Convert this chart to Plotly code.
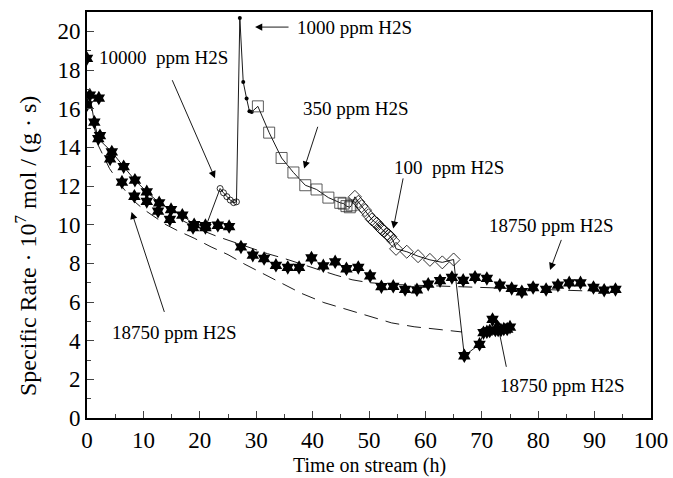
import plotly.graph_objects as go

# ---- data (time on stream in h, specific rate * 1e7 mol/(g s)) ----
# constant 18750 ppm H2S run
const_x = [0, 0.5, 1.3, 2.0, 4.4, 6.5, 8.5, 10.6, 12.8, 14.9, 16.9, 19.0, 21.0, 23.2, 25.2,
           27.3, 29.4, 31.4, 33.5, 35.6, 37.6, 39.8, 41.9, 44.0, 46.0, 48.1, 50.2, 52.2, 54.3,
           56.4, 58.5, 60.5, 62.6, 64.7, 66.7, 68.8, 70.9, 73.2, 75.3, 77.1, 79.1, 81.4, 83.5,
           85.5, 87.5, 89.8, 91.7, 93.7]
const_y = [18.6, 16.7, 15.3, 14.45, 13.76, 13.0, 12.3, 11.7, 11.13, 10.78, 10.49, 10.0, 9.95,
           9.97, 9.9, 8.85, 8.42, 8.25, 7.9, 7.79, 7.79, 8.28, 7.87, 8.08, 7.72, 7.79, 7.35, 6.79,
           6.81, 6.65, 6.63, 6.92, 7.1, 7.27, 7.12, 7.28, 7.22, 6.87, 6.7, 6.53, 6.75, 6.65, 6.87,
           6.99, 6.99, 6.75, 6.61, 6.65]
const_line_n = 13  # points joined by the solid line at the start

# varied-H2S run
s1_x = [0, 2.1, 2.3, 4.1, 6.2, 8.4, 10.6, 12.6, 14.7, 18.8, 21.0]   # 18750 ppm
s1_y = [16.2, 16.55, 14.6, 13.4, 12.2, 11.47, 11.2, 10.7, 10.27, 9.85, 9.85]
c_x = [23.6, 24.2, 24.8, 25.4, 26.0, 26.5]                          # 10000 ppm
c_y = [11.87, 11.65, 11.45, 11.27, 11.14, 11.18]
d_x = [27.1, 27.7, 28.3, 28.8, 29.2]                                # 1000 ppm
d_y = [20.69, 17.38, 16.52, 15.87, 15.83]
sq_x = [30.3, 32.3, 34.5, 36.6, 38.7, 40.7, 42.8, 44.9, 45.5, 46.0, 46.6, 46.9]   # 350 ppm
sq_y = [16.12, 14.76, 13.45, 12.7, 12.04, 11.82, 11.4, 11.13, 11.09, 10.96, 10.9, 11.0]
dm_x = [47.5, 48.1, 48.7, 49.3, 49.9, 50.5, 51.0, 51.4, 51.95, 52.3, 52.7, 53.2, 53.5, 53.8,
        54.3, 54.8, 56.7, 58.7, 60.8, 63.0, 65.0]                   # 100 ppm
dm_y = [11.44, 11.18, 10.96, 10.75, 10.49, 10.27, 10.15, 10.06, 9.86, 9.75, 9.66, 9.51, 9.45,
        9.37, 9.16, 8.75, 8.6, 8.37, 8.18, 8.05, 8.2]
s2_x = [66.9, 69.6, 70.3, 70.9, 71.4, 71.9, 72.4, 72.9, 73.4, 73.9, 74.5, 75.0]   # 18750 ppm
s2_y = [3.22, 3.81, 4.41, 4.46, 4.5, 5.1, 4.55, 4.55, 4.55, 4.6, 4.6, 4.7]

# model curves (dashed)
mu_x = [17, 20, 23, 26, 29, 32, 35, 38, 41, 44, 47, 50, 55, 60, 65, 70, 75, 80, 85, 90, 94]
mu_y = [10.2, 9.75, 9.4, 9.1, 8.8, 8.5, 8.25, 7.95, 7.68, 7.4, 7.15, 7.0, 6.9, 6.85, 6.8, 6.75,
        6.72, 6.68, 6.62, 6.57, 6.52]
ml_x = [0.5, 1.2, 2.0, 4, 6, 8, 10, 12, 14, 16, 19, 22, 25, 28, 31, 34, 38, 42, 46, 50, 54,
        58, 62, 66.5]
ml_y = [16.6, 15.2, 14.1, 12.9, 12.05, 11.3, 10.8, 10.4, 10.0, 9.7, 9.3, 8.85, 8.45, 7.95, 7.5,
        7.05, 6.45, 5.97, 5.62, 5.3, 4.92, 4.72, 4.58, 4.45]

# labels: (text, text_x, text_y, arrow_tail_x, arrow_tail_y, arrow_tip_x, arrow_tip_y)
labels = [
    ("1000 ppm H2S", 36.9, 20.2, 36.0, 20.22, 29.8, 20.22),
    ("10000\u00a0\u00a0ppm H2S", 1.8, 18.66, 15.0, 17.55, 22.7, 12.4),
    ("350 ppm H2S", 37.9, 16.0, 41.0, 15.14, 38.5, 12.9),
    ("100\u00a0\u00a0ppm H2S", 54.0, 12.97, 56.1, 12.47, 54.3, 9.8),
    ("18750 ppm H2S", 70.9, 9.97, 84.2, 9.29, 82.1, 7.65),
    ("18750 ppm H2S", 72.9, 1.7, 74.4, 2.57, 72.6, 5.15),
    ("18750 ppm H2S", 4.1, 4.44, 13.8, 5.41, 7.9, 10.66),
]

Y_TITLE = "Specific Rate \u00b7 10<sup>7</sup> mol / (g \u00b7 s)"
X_TITLE = "Time on stream (h)"

FONT = "Liberation Serif, Times New Roman, serif"
fig = go.Figure()

# dashed model curves
dash = "14px,8px"
fig.add_trace(go.Scatter(x=mu_x, y=mu_y, mode="lines",
                         line=dict(color="black", width=0.9, dash=dash)))
fig.add_trace(go.Scatter(x=ml_x, y=ml_y, mode="lines",
                         line=dict(color="black", width=0.9, dash=dash)))

# solid line joining the varied-run after 21 h
run_x = [s1_x[-1]] + c_x + d_x + sq_x + dm_x + s2_x
run_y = [s1_y[-1]] + c_y + d_y + sq_y + dm_y + s2_y
fig.add_trace(go.Scatter(x=run_x, y=run_y, mode="lines",
                         line=dict(color="black", width=0.9)))
# solid line through start of constant run
fig.add_trace(go.Scatter(x=const_x[1:const_line_n], y=const_y[1:const_line_n], mode="lines",
                         line=dict(color="black", width=0.9)))

star = dict(symbol="hexagram", size=11, color="black", line=dict(width=0))
fig.add_trace(go.Scatter(x=const_x, y=const_y, mode="markers", marker=star))
fig.add_trace(go.Scatter(x=s1_x, y=s1_y, mode="markers", marker=star))
fig.add_trace(go.Scatter(x=s2_x, y=s2_y, mode="markers", marker=star))
fig.add_trace(go.Scatter(x=c_x, y=c_y, mode="markers",
                         marker=dict(symbol="circle-open", size=6, color="black",
                                     line=dict(width=0.8))))
fig.add_trace(go.Scatter(x=d_x, y=d_y, mode="markers",
                         marker=dict(symbol="circle", size=4, color="black")))
fig.add_trace(go.Scatter(x=sq_x, y=sq_y, mode="markers",
                         marker=dict(symbol="square-open", size=11, color="#333",
                                     line=dict(width=0.8))))
fig.add_trace(go.Scatter(x=dm_x, y=dm_y, mode="markers",
                         marker=dict(symbol="diamond-open", size=10, color="black",
                                     line=dict(width=0.8))))

anns = []
for t, tx, ty, ax_, ay_, hx, hy in labels:
    anns.append(dict(x=hx, y=hy, ax=ax_, ay=ay_, xref="x", yref="y", axref="x", ayref="y",
                     text="", showarrow=True, arrowhead=2, arrowsize=1.6, arrowwidth=0.9,
                     arrowcolor="black", standoff=0, startstandoff=0))
    anns.append(dict(x=tx, y=ty, xref="x", yref="y", text=t, showarrow=False,
                     xanchor="left", yanchor="middle",
                     font=dict(family=FONT, size=19, color="black")))

# axis titles as annotations (placed as in the source)
anns.append(dict(x=-0.108, y=8.9, xref="paper", yref="y", text=Y_TITLE, showarrow=False,
                 textangle=-90, xanchor="center", yanchor="middle",
                 font=dict(family=FONT, size=24, color="black")))
anns.append(dict(x=50, y=-0.118, xref="x", yref="paper", text=X_TITLE, showarrow=False,
                 xanchor="center", yanchor="middle",
                 font=dict(family=FONT, size=20, color="black")))

fig.update_layout(
    width=673, height=478,
    margin=dict(l=87, r=22, t=12, b=60),
    paper_bgcolor="white", plot_bgcolor="white",
    showlegend=False,
    font=dict(family=FONT, color="black"),
    annotations=anns,
    xaxis=dict(range=[0, 100], dtick=10, tick0=0, ticks="inside", ticklen=7, tickwidth=1,
               minor=dict(dtick=5, ticks="inside", ticklen=4, tickwidth=1),
               showline=True, linecolor="black", linewidth=2, mirror=True,
               showgrid=False, zeroline=False, automargin=False,
               tickfont=dict(family=FONT, size=23)),
    yaxis=dict(range=[0, 21], dtick=2, tick0=0, ticks="inside", ticklen=7, tickwidth=1,
               minor=dict(dtick=1, ticks="inside", ticklen=4, tickwidth=1),
               showline=True, linecolor="black", linewidth=2, mirror=True,
               showgrid=False, zeroline=False, automargin=False,
               tickfont=dict(family=FONT, size=23)),
)

fig.write_html("out.html")
